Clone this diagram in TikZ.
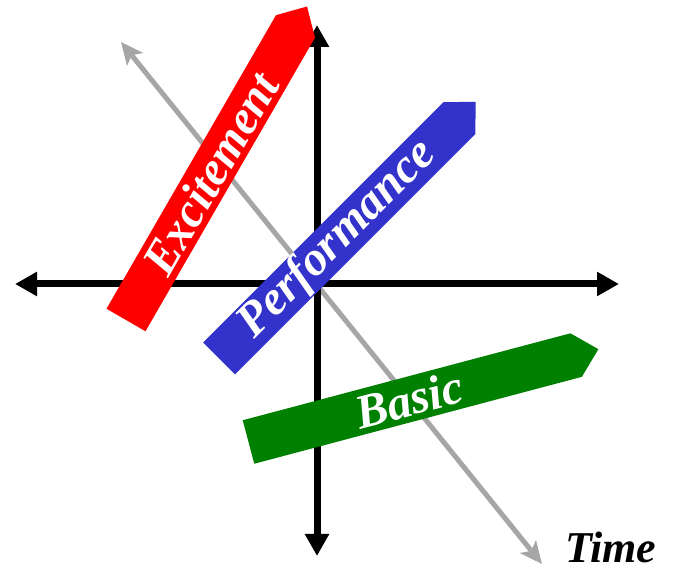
\documentclass[tikz,border=0pt]{standalone}
\usepackage{fontspec}
\setmainfont{Liberation Serif}
\usetikzlibrary{arrows.meta}
\definecolor{barred}{RGB}{255,0,0}
\definecolor{barblue}{RGB}{51,51,204}
\definecolor{bargreen}{RGB}{0,128,0}
\definecolor{timegray}{RGB}{166,166,166}
\begin{document}
\begin{tikzpicture}[x=1pt,y=-1pt,
  timeline/.style={draw=timegray, line width=5pt, {Stealth[length=22pt,width=20pt,inset=5pt]}-{Stealth[length=22pt,width=20pt,inset=5pt]}},
  axisline/.style={draw=black, line width=7pt, {Triangle[length=22pt,width=23pt]}-{Triangle[length=22pt,width=23pt]}},
  homeplate/.style={line width=0pt},
  bartext/.style={text=white, font=\bfseries\itshape\fontsize{48}{48}\selectfont, inner sep=0pt},
  timetext/.style={text=black, font=\bfseries\itshape\fontsize{44}{44}\selectfont, inner sep=0pt}]
\useasboundingbox (0,0) rectangle (673,569);
\fill[white] (0,0) rectangle (673,569);
% time arrow
\coordinate (g1) at (121,42);
\coordinate (g2) at (542,564);
\draw[timeline] (g1) -- (g2);
% axes
\coordinate (xl) at (15,284);
\coordinate (xr) at (619,284);
\coordinate (yt) at (317,25);
\coordinate (yb) at (317,556);
\draw[axisline] (xl) -- (xr);
\draw[axisline] (yt) -- (yb);
% Excitement bar
\begin{scope}[shift={(126,320)}, rotate=60]
  \fill[barred] (0,-22.5) -- (339,-22.5) -- (362,0) -- (339,22.5) -- (0,22.5) -- cycle;
  \node[bartext, rotate=60] (exc) at (169,0) {Excitement};
\end{scope}
% Performance bar
\begin{scope}[shift={(219,358.5)}, rotate=45]
  \fill[barblue] (0,-22.5) -- (340,-22.5) -- (363,0) -- (340,22.5) -- (0,22.5) -- cycle;
  \node[bartext, rotate=45] (perf) at (168,0) {Performance};
\end{scope}
% Basic bar
\begin{scope}[shift={(248.5,442)}, rotate=14.86]
  \fill[bargreen] (0,-22.5) -- (339,-22.5) -- (362,0) -- (339,22.5) -- (0,22.5) -- cycle;
  \node[bartext, rotate=14.86] (basic) at (166,0) {Basic};
\end{scope}
\node[timetext, anchor=base west] (time) at (565,563) {Time};
\end{tikzpicture}
\end{document}
